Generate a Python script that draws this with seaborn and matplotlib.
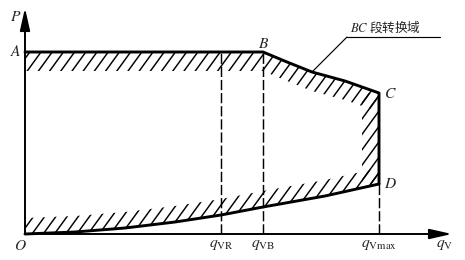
import numpy as np
import matplotlib
matplotlib.use("Agg")
import matplotlib.pyplot as plt
from matplotlib.patches import Polygon
from matplotlib.collections import LineCollection
import seaborn as sns

# ---- data (normalised units) ----
q_names = [r"$q_{\rm VR}$", r"$q_{\rm VB}$", r"$q_{\rm Vmax}$"]
q_VR, q_VB, q_Vmax = 1.96, 2.38, 3.54
p_A, p_C, p_D = 1.82, 1.41, 0.50

# upper boundary A-B-C
top_q = [0.0, q_VB, 2.62, 2.87, 3.20, q_Vmax]
top_p = [p_A, p_A, 1.72, 1.62, 1.53, p_C]
# lower boundary O-D
low_q = [0.0, 0.5, 1.0, 1.5, q_VR, q_VB, 3.0, q_Vmax]
low_p = [0.0, 0.02, 0.06, 0.12, 0.19, 0.27, 0.38, p_D]

band_top, band_right, band_low = 0.19, 0.17, 0.16

sns.set_theme(style="white")
plt.rcParams["font.family"] = ["Noto Sans CJK SC", "DejaVu Sans"]
plt.rcParams["mathtext.fontset"] = "stix"

DPI = 140
fig = plt.figure(figsize=(465 / DPI, 260 / DPI), dpi=DPI)
ax = fig.add_axes([0, 0, 1, 1])
ax.set_xlim(-0.25, 4.40)
ax.set_ylim(-0.26, 2.34)
ax.axis("off")

tq, tp = np.array(top_q), np.array(top_p)
lq, lp = np.array(low_q), np.array(low_p)


def hatch_band(verts, spacing=0.112, angle=54):
    poly = Polygon(verts, closed=True, facecolor="none", edgecolor="none")
    ax.add_patch(poly)
    run = 2.8 / np.tan(np.deg2rad(angle))
    starts = np.arange(-2.5, 4.6, spacing)
    segs = [[(c, -0.3), (c + run, 2.5)] for c in starts]
    lc = LineCollection(segs, colors="black", linewidths=0.75)
    ax.add_collection(lc, autolim=False)
    lc.set_clip_path(poly)


hatch_band(list(zip(tq, tp)) + list(zip(tq[::-1], (tp - band_top)[::-1])))
hatch_band([(q_Vmax - band_right, p_D), (q_Vmax, p_D),
            (q_Vmax, p_C), (q_Vmax - band_right, p_C)])
hatch_band(list(zip(lq, lp)) + list(zip(lq[::-1], (lp + band_low)[::-1])))

# boundary lines
sns.lineplot(x=list(top_q) + [q_Vmax], y=list(top_p) + [p_D], sort=False,
             estimator=None, color="black", lw=1.5, ax=ax)
sns.lineplot(x=low_q, y=low_p, sort=False, estimator=None,
             color="black", lw=1.5, ax=ax)

# dashed verticals
dash = (0, (7, 2))
ax.vlines([q_VR, q_VB], 0, p_A, colors="black", linestyles=dash, lw=0.75)
ax.vlines(q_Vmax, 0, p_D, colors="black", linestyles=dash, lw=0.75)

# axes with arrows
arr = dict(arrowstyle="-|>,head_length=0.8,head_width=0.18", lw=1.0,
           color="black", shrinkA=0, shrinkB=0)
ax.annotate("", xy=(4.27, 0), xytext=(0, 0), arrowprops=arr)
ax.annotate("", xy=(0, 2.26), xytext=(0, 0), arrowprops=arr)

fs = 8
ax.text(-0.09, 2.17, r"$P$", fontsize=fs, ha="center", va="center")
ax.text(-0.09, p_A, r"$A$", fontsize=fs, ha="center", va="center")
ax.text(-0.05, -0.11, r"$O$", fontsize=fs, ha="center", va="center")
ax.text(q_VB + 0.01, p_A + 0.08, r"$B$", fontsize=fs, ha="center", va="center")
ax.text(q_Vmax + 0.11, p_C, r"$C$", fontsize=fs, ha="center", va="center")
ax.text(q_Vmax + 0.11, p_D + 0.01, r"$D$", fontsize=fs, ha="center", va="center")
for name, q in zip(q_names, [q_VR, q_VB, q_Vmax]):
    ax.text(q, -0.10, name, fontsize=fs, ha="center", va="center")
ax.text(4.20, -0.10, r"$q_{\rm V}$", fontsize=fs, ha="center", va="center")

# annotation
ax.text(3.25, 2.07, r"$BC$ 段转换域", fontsize=6.5, ha="left", va="center")
ax.plot([3.22, 4.15], [1.97, 1.97], color="black", lw=0.6)
ax.plot([3.22, 2.87], [1.97, 1.62], color="black", lw=0.6)

fig.savefig("out.png", dpi=DPI, facecolor="white")
